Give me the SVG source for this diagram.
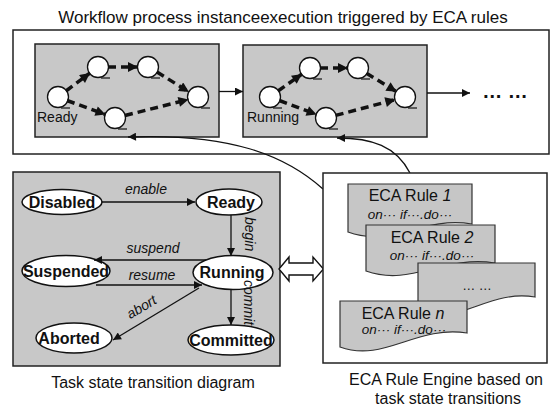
<svg xmlns="http://www.w3.org/2000/svg" width="557" height="407" viewBox="0 0 557 407">
<defs>
<style>
.frame{fill:#fff;stroke:#222;stroke-width:1.5}
.gbox{fill:#c8c8c8;stroke:#222;stroke-width:1.5}
.doc{fill:#c6c6c6;stroke:#333;stroke-width:1.2}
.circ{fill:#fff;stroke:#111;stroke-width:1.3}
.tail{fill:none;stroke:#111;stroke-width:1.2}
.dash{fill:none;stroke:#111;stroke-width:3.5;stroke-dasharray:8 5}
.thin{fill:none;stroke:#111;stroke-width:1.3}
.ell{fill:#fff;stroke:#111;stroke-width:1.5}
.cap{font-family:"Liberation Sans",Arial,sans-serif;font-size:16px;fill:#111}
.lbl{font-family:"Liberation Sans",Arial,sans-serif;font-size:14px;fill:#111}
.st{font-family:"Liberation Sans",Arial,sans-serif;font-size:16px;font-weight:bold;fill:#111;text-anchor:middle}
.it{font-family:"Liberation Sans",Arial,sans-serif;font-size:14px;font-style:italic;fill:#111}
.rule{font-family:"Liberation Sans",Arial,sans-serif;font-size:16px;fill:#111;text-anchor:middle}
.on{font-family:"Liberation Sans",Arial,sans-serif;font-size:13.5px;font-style:italic;fill:#111;text-anchor:middle}
</style>
<marker id="ah" viewBox="0 0 10 10" refX="10" refY="5" markerWidth="10" markerHeight="8" markerUnits="userSpaceOnUse" orient="auto"><path d="M0 0 L10 5 L0 10 Z" fill="#111"/></marker>
<marker id="ahd" viewBox="0 0 10 10" refX="10" refY="5" markerWidth="11" markerHeight="10" markerUnits="userSpaceOnUse" orient="auto"><path d="M0 0 L10 5 L0 10 Z" fill="#111"/></marker>
</defs>

<text class="cap" x="283" y="23" text-anchor="middle" style="font-size:17px">Workflow process instanceexecution triggered by ECA rules</text>

<g id="workflow-frame"><rect class="frame" x="13" y="30" width="536" height="124"/></g>

<g id="instance-ready">
<rect class="gbox" x="35" y="44" width="184" height="93"/>
<circle class="circ" cx="58" cy="97" r="10.5"/><path class="tail" d="M61 108 H70"/>
<circle class="circ" cx="98" cy="67" r="10.5"/><path class="tail" d="M101 78 H110"/>
<circle class="circ" cx="148" cy="67" r="10.5"/><path class="tail" d="M151 78 H160"/>
<circle class="circ" cx="198" cy="97" r="10.5"/><path class="tail" d="M201 108 H210"/>
<circle class="circ" cx="115" cy="118" r="10.5"/><path class="tail" d="M118 129 H127"/>
<path class="dash" d="M66 91 L90 73" marker-end="url(#ahd)"/>
<path class="dash" d="M108 67 L138 67" marker-end="url(#ahd)"/>
<path class="dash" d="M157 72 L189 92" marker-end="url(#ahd)"/>
<path class="dash" d="M67 100.5 L105.5 114.5" marker-end="url(#ahd)"/>
<path class="dash" d="M125 115.5 L188.5 99.5" marker-end="url(#ahd)"/>
<text class="lbl" x="37" y="122">Ready</text>
</g>

<g id="instance-running">
<rect class="gbox" x="243" y="45" width="184" height="92"/>
<circle class="circ" cx="270" cy="97" r="10.5"/><path class="tail" d="M273 108 H282"/>
<circle class="circ" cx="310" cy="68" r="10.5"/><path class="tail" d="M313 79 H322"/>
<circle class="circ" cx="358" cy="68" r="10.5"/><path class="tail" d="M361 79 H370"/>
<circle class="circ" cx="405" cy="97" r="10.5"/><path class="tail" d="M408 108 H417"/>
<circle class="circ" cx="326" cy="118" r="10.5"/><path class="tail" d="M329 129 H338"/>
<path class="dash" d="M278 91 L302 74" marker-end="url(#ahd)"/>
<path class="dash" d="M320 68 L348 68" marker-end="url(#ahd)"/>
<path class="dash" d="M366.5 73.3 L396.5 91.7" marker-end="url(#ahd)"/>
<path class="dash" d="M279.4 100.5 L316.6 114.5" marker-end="url(#ahd)"/>
<path class="dash" d="M335.7 115.4 L395.3 99.6" marker-end="url(#ahd)"/>
<text class="lbl" x="247" y="122">Running</text>
</g>

<g id="more-instances">
<text x="505" y="98" text-anchor="middle" font-family="Liberation Sans, Arial, sans-serif" font-size="20" font-weight="bold" fill="#111">… …</text>
</g>

<g id="task-state-diagram">
<rect class="gbox" x="13" y="172" width="267" height="194"/>
<g id="state-disabled"><ellipse class="ell" cx="62" cy="202" rx="40" ry="12.5"/><text class="st" x="62" y="208">Disabled</text></g>
<g id="state-ready"><ellipse class="ell" cx="229" cy="202" rx="33" ry="13"/><text class="st" x="231" y="208">Ready</text></g>
<g id="state-suspended"><ellipse class="ell" cx="66" cy="271" rx="44" ry="15.5"/><text class="st" x="66" y="277">Suspended</text></g>
<g id="state-running"><ellipse class="ell" cx="233" cy="272.5" rx="40" ry="17"/><text class="st" x="232" y="278">Running</text></g>
<g id="state-aborted"><ellipse class="ell" cx="74" cy="338" rx="38" ry="15"/><text class="st" x="69" y="344">Aborted</text></g>
<g id="state-committed"><ellipse class="ell" cx="231" cy="340" rx="43" ry="15"/><text class="st" x="231" y="346">Committed</text></g>
</g>

<g id="connectors">
<path class="thin" d="M219 91.5 H243" marker-end="url(#ah)"/>
<path class="thin" d="M427 93 H470" marker-end="url(#ah)"/>
<path class="thin" d="M323 189 C285 155, 230 133, 128 137" marker-end="url(#ah)"/>
<path class="thin" d="M410 173 C396 146, 372 138, 337 138" marker-end="url(#ah)"/>
<path class="thin" d="M102 202 H195" marker-end="url(#ah)"/>
<path class="thin" d="M231 215 V256" marker-end="url(#ah)"/>
<path class="thin" d="M206 260 H94" marker-end="url(#ah)"/>
<path class="thin" d="M96 285 H202" marker-end="url(#ah)"/>
<path class="thin" d="M199 288 L113 340" marker-end="url(#ah)"/>
<path class="thin" d="M231 290 V325" marker-end="url(#ah)"/>
<path d="M279 269 L289 257 V263 H313 V257 L323.5 269 L313 281 V275 H289 V281 Z" fill="#fff" stroke="#111" stroke-width="1.4" stroke-linejoin="miter"/>
<text class="it" x="146" y="194" text-anchor="middle">enable</text>
<text class="it" x="245" y="217" transform="rotate(90 245 217)">begin</text>
<text class="it" x="153" y="253" text-anchor="middle">suspend</text>
<text class="it" x="152" y="280" text-anchor="middle">resume</text>
<text class="it" x="144" y="311" text-anchor="middle" transform="rotate(-31 144 311)">abort</text>
<text class="it" x="244" y="280" transform="rotate(90 244 280)">commit</text>
</g>

<text class="cap" x="153" y="388" text-anchor="middle">Task state transition diagram</text>

<g id="eca-engine">
<rect class="frame" x="323" y="173" width="224" height="190"/>
<g id="rule-1">
<path class="doc" d="M348 184 H472 V224 C421 216 391 248 348 232 Z"/>
<text class="rule" x="410" y="201">ECA Rule <tspan font-style="italic">1</tspan></text>
<text class="on" x="410" y="219">on··· if···.do···</text>
</g>
<g id="rule-2">
<path class="doc" d="M366 225 H495 V263 C443 255 411 287 366 271 Z"/>
<text class="rule" x="432" y="243">ECA Rule <tspan font-style="italic">2</tspan></text>
<text class="on" x="432" y="260">on··· if···.do···</text>
</g>
<g id="rule-more">
<path class="doc" d="M418 263 H535 V297 C488 289 459 327 418 311 Z"/>
<text x="477" y="290" text-anchor="middle" font-family="Liberation Sans, Arial, sans-serif" font-size="13" fill="#111">… …</text>
</g>
<g id="rule-n">
<path class="doc" d="M340 301 H467 V333 C416 325 384 363 340 347 Z"/>
<text class="rule" x="403" y="319">ECA Rule <tspan font-style="italic">n</tspan></text>
<text class="on" x="404" y="334">on··· if···.do···</text>
</g>
</g>

<text class="cap" x="446" y="385" text-anchor="middle">ECA Rule Engine based on</text>
<text class="cap" x="448" y="404" text-anchor="middle">task state transitions</text>
</svg>
